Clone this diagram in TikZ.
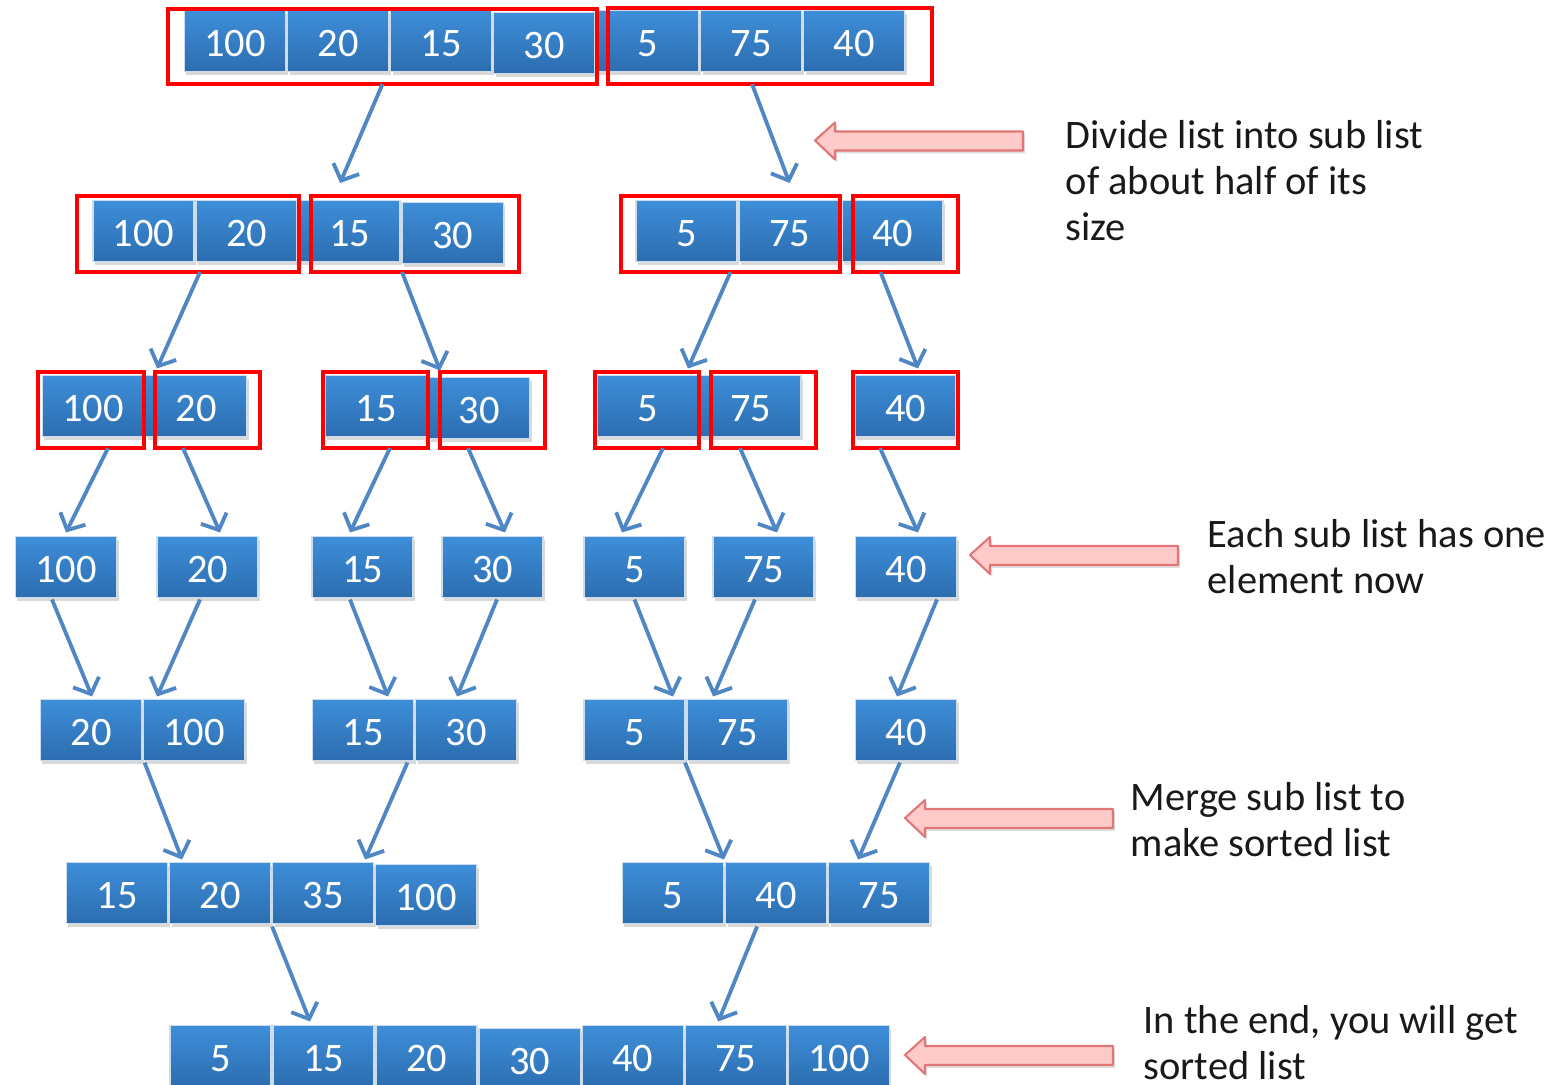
\documentclass[tikz,border=0pt]{standalone}
\usepackage{fontspec}
\setmainfont{Carlito}
\usetikzlibrary{arrows.meta,positioning,calc,shadows}
\definecolor{celltop}{RGB}{62,142,217}
\definecolor{cellbot}{RGB}{44,109,176}
\definecolor{cellline}{RGB}{205,220,235}
\definecolor{linkblue}{RGB}{79,134,196}
\definecolor{hintfill}{RGB}{255,202,202}
\definecolor{hintline}{RGB}{226,118,118}

\begin{document}
\begin{tikzpicture}[x=0.01cm, y=-0.01cm, font=\fontsize{11.5}{13.1}\selectfont]
\tikzset{
    %Define standard arrow tip
    >={Straight Barb[length=0.13cm, width=0.28cm]},
    %Define style for the list cells
    cell/.style={
           rectangle,
           draw=cellline, line width=0.4pt,
           top color=celltop, bottom color=cellbot,
           text=white,
           minimum width=1.01cm, minimum height=0.61cm,
           inner sep=0pt, outer sep=0pt,
           text height=0.31cm, text depth=0pt,
           drop shadow={shadow xshift=0.02cm, shadow yshift=-0.035cm, opacity=0.3}},
    %Define style for the red split frames
    frame/.style={
           rectangle,
           draw=red, line width=0.035cm,
           inner sep=0pt, outer sep=0pt},
    % Define arrow style
    pil/.style={
           ->,
           draw=linkblue,
           line width=0.038cm},
    % Define style for the pink pointers
    hint/.style={
           draw=hintline, fill=hintfill,
           line width=0.6pt, line join=round,
           drop shadow={shadow xshift=0.02cm, shadow yshift=-0.03cm, opacity=0.25}},
    % Define style for the side notes
    note/.style={
           anchor=north west,
           align=left,
           inner sep=0pt,
           text=black!90}
}
\useasboundingbox (0,0) rectangle (1562,1085);

 %row 1
 \node[cell] (r1a) at (235,41) {100};
 \node[cell, right=0.02cm of r1a] (r1b) {20};
 \node[cell, right=0.02cm of r1b] (r1c) {15};
 \node[cell, right=0.02cm of r1c, yshift=-0.02cm] (r1d) {30};
 \node[cell] (r1e) at (648,41) {5};
 \node[cell, right=0.02cm of r1e] (r1f) {75};
 \node[cell, right=0.02cm of r1f] (r1g) {40};
 \node[frame, minimum width=4.29cm, minimum height=0.75cm] (f1a) at (382.5,46.5) {};
 \node[frame, minimum width=3.24cm, minimum height=0.76cm] (f1b) at (770,46) {};

 %row 2
 \node[cell] (r2a) at (143.5,231) {100};
 \node[cell, right=0.02cm of r2a] (r2b) {20};
 \node[cell, right=0.02cm of r2b] (r2c) {15};
 \node[cell, right=0.02cm of r2c, yshift=-0.02cm] (r2d) {30};
 \node[cell] (r2e) at (686.5,231) {5};
 \node[cell, right=0.02cm of r2e] (r2f) {75};
 \node[cell, right=0.02cm of r2f] (r2g) {40};
 \node[frame, minimum width=2.22cm, minimum height=0.76cm] (f2a) at (188,234) {};
 \node[frame, minimum width=2.08cm, minimum height=0.76cm] (f2b) at (415,234) {};
 \node[frame, minimum width=2.19cm, minimum height=0.76cm] (f2c) at (730.5,234) {};
 \node[frame, minimum width=1.05cm, minimum height=0.76cm] (f2d) at (905.5,234) {};

 %row 3
 \node[cell] (r3a) at (93,406) {100};
 \node[cell, right=0.02cm of r3a] (r3b) {20};
 \node[cell] (r3c) at (376,406) {15};
 \node[cell, right=0.02cm of r3c, yshift=-0.02cm] (r3d) {30};
 \node[cell] (r3e) at (647.5,406) {5};
 \node[cell, right=0.02cm of r3e] (r3f) {75};
 \node[cell] (r3g) at (905.5,406) {40};
 \node[frame, minimum width=1.06cm, minimum height=0.76cm] (f3a) at (91,410) {};
 \node[frame, minimum width=1.05cm, minimum height=0.76cm] (f3b) at (207.5,410) {};
 \node[frame, minimum width=1.05cm, minimum height=0.76cm] (f3c) at (375.5,410) {};
 \node[frame, minimum width=1.05cm, minimum height=0.76cm] (f3d) at (492.5,410) {};
 \node[frame, minimum width=1.04cm, minimum height=0.76cm] (f3e) at (647,410) {};
 \node[frame, minimum width=1.05cm, minimum height=0.76cm] (f3f) at (763.5,410) {};
 \node[frame, minimum width=1.05cm, minimum height=0.76cm] (f3g) at (905.5,410) {};

 %row 4, one element each
 \node[cell] (r4a) at (66,567) {100};
 \node[cell] (r4b) at (207.5,567) {20};
 \node[cell] (r4c) at (362.5,567) {15};
 \node[cell] (r4d) at (492.5,567) {30};
 \node[cell] (r4e) at (634.5,567) {5};
 \node[cell] (r4f) at (763.5,567) {75};
 \node[cell] (r4g) at (906,567) {40};

 %row 5
 \node[cell] (r5a) at (91,730) {20};
 \node[cell, right=0.02cm of r5a] (r5b) {100};
 \node[cell] (r5c) at (363,730) {15};
 \node[cell, right=0.02cm of r5c] (r5d) {30};
 \node[cell] (r5e) at (634.5,730) {5};
 \node[cell, right=0.02cm of r5e] (r5f) {75};
 \node[cell] (r5g) at (906,730) {40};

 %row 6
 \node[cell] (r6a) at (117,893) {15};
 \node[cell, right=0.02cm of r6a] (r6b) {20};
 \node[cell, right=0.02cm of r6b] (r6c) {35};
 \node[cell, right=0.02cm of r6c, yshift=-0.02cm] (r6d) {100};
 \node[cell] (r6e) at (673,893) {5};
 \node[cell, right=0.02cm of r6e] (r6f) {40};
 \node[cell, right=0.02cm of r6f] (r6g) {75};

 %row 7, the sorted list
 \node[cell] (r7a) at (220.5,1056) {5};
 \node[cell, right=0.02cm of r7a] (r7b) {15};
 \node[cell, right=0.02cm of r7b] (r7c) {20};
 \node[cell, right=0.02cm of r7c, yshift=-0.03cm] (r7d) {30};
 \node[cell, right=0.02cm of r7d, yshift=0.03cm] (r7e) {40};
 \node[cell, right=0.02cm of r7e] (r7f) {75};
 \node[cell, right=0.02cm of r7f] (r7g) {100};

 %split arrows
 \draw[pil] (f1a.south) -- ($(r2c.north)+(-9.5,-17.5)$);
 \draw[pil] ($(f1b.south)+(-18,0)$) -- ($(r2f.north)+(0,-17.5)$);
 \draw[pil] ($(f2a.south)+(12,0)$) -- ($(r3b.north)+(-39,-7)$);
 \draw[pil] ($(f2b.south)+(-13,0)$) -- ($(r3d.north)+(-39,-7)$);
 \draw[pil] (f2c.south) -- ($(r3e.north)+(40.5,-7)$);
 \draw[pil] ($(f2d.south)+(-25,0)$) -- ($(r3g.north)+(12.5,-7)$);
 \draw[pil] ($(f3a.south)+(17,0)$) -- ($(r4a.north)+(0,-4)$);
 \draw[pil] ($(f3b.south)+(-24.5,0)$) -- ($(r4b.north)+(12.5,-4)$);
 \draw[pil] ($(f3c.south)+(14.5,0)$) -- ($(r4c.north)+(-12.5,-4)$);
 \draw[pil] ($(f3d.south)+(-24.5,0)$) -- ($(r4d.north)+(12.5,-4)$);
 \draw[pil] ($(f3e.south)+(16,0)$) -- ($(r4e.north)+(-12.5,-4)$);
 \draw[pil] ($(f3f.south)+(-23.5,0)$) -- ($(r4f.north)+(13.5,-4)$);
 \draw[pil] ($(f3g.south)+(-25.5,0)$) -- ($(r4g.north)+(12,-4)$);

 %merge arrows
 \draw[pil] ($(r4a.south)+(-14,2)$) -- ($(r5a.north)+(1,-3)$);
 \draw[pil] ($(r4b.south)+(-7.5,2)$) -- ($(r5b.north)+(-37,-3)$);
 \draw[pil] ($(r4c.south)+(-12.5,2)$) -- ($(r5c.north)+(25,-3)$);
 \draw[pil] ($(r4d.south)+(4.5,2)$) -- ($(r5d.north)+(-9,-3)$);
 \draw[pil] ($(r4e.south)+(0,2)$) -- ($(r5e.north)+(38.5,-3)$);
 \draw[pil] ($(r4f.south)+(-8.5,2)$) -- ($(r5f.north)+(-24.5,-3)$);
 \draw[pil] ($(r4g.south)+(31,2)$) -- ($(r5g.north)+(-9,-3)$);
 \draw[pil] ($(r5b.south west)+(1,2)$) -- ($(r6b.north)+(-38,-3)$);
 \draw[pil] ($(r5c.south east)+(-6,2)$) -- ($(r6c.north)+(42,-3)$);
 \draw[pil] ($(r5e.south east)+(0,2)$) -- ($(r6f.north west)+(-1.5,-3)$);
 \draw[pil] ($(r5g.south)+(-6,2)$) -- ($(r6g.north)+(-21,-3)$);
 \draw[pil] ($(r6b.south east)+(1.5,3)$) -- ($(r7b.north)+(-13.5,-4)$);
 \draw[pil] ($(r6f.south)+(-19,3)$) -- ($(r7f.north)+(-17.5,-4)$);

 %pink pointers
 \draw[hint] (815,140.5) -- ++(20,-18) -- ++(0,9) -- ++(188,0) -- ++(0,19) -- ++(-188,0) -- ++(0,9) -- cycle;
 \draw[hint] (970,555) -- ++(20,-18) -- ++(0,9) -- ++(188,0) -- ++(0,19) -- ++(-188,0) -- ++(0,9) -- cycle;
 \draw[hint] (905,818) -- ++(20,-18) -- ++(0,9) -- ++(188,0) -- ++(0,19) -- ++(-188,0) -- ++(0,9) -- cycle;
 \draw[hint] (905,1055) -- ++(20,-18) -- ++(0,9) -- ++(188,0) -- ++(0,19) -- ++(-188,0) -- ++(0,9) -- cycle;

 %side notes
 \node[note] (tdivide) at (1065,120) {Divide list into sub list\\of about half of its\\size};
 \node[note] (tone) at (1207,519) {Each sub list has one\\element now};
 \node[note] (tmerge) at (1130,782) {Merge sub list to\\make sorted list};
 \node[note] (tend) at (1143,1005) {In the end, you will get\\sorted list};
\end{tikzpicture}
\end{document}
